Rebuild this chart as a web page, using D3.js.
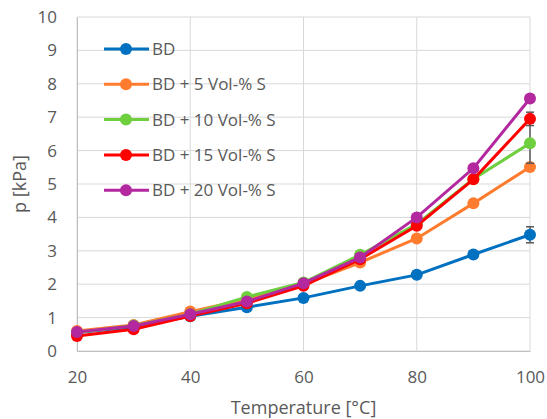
<!DOCTYPE html>
<html>
<head>
<meta charset="utf-8">
<script src="https://cdn.jsdelivr.net/npm/d3@7"></script>
<style>
  body { margin: 0; background: #fff; }
  text { font-family: "Open Sans", sans-serif; fill: #595959; }
</style>
</head>
<body>
<div class="chart"></div>
<script>
// temperatures on the x axis
const temps = [20, 30, 40, 50, 60, 70, 80, 90, 100];

// series names and values
const seriesNames = ["BD", "BD + 5 Vol-% S", "BD + 10 Vol-% S", "BD + 15 Vol-% S", "BD + 20 Vol-% S"];
const bd      = [0.55, 0.72, 1.04, 1.31, 1.59, 1.95, 2.28, 2.89, 3.48];
const bd5     = [0.60, 0.78, 1.18, 1.55, 2.00, 2.65, 3.37, 4.42, 5.51];
const bd10    = [0.55, 0.76, 1.10, 1.62, 2.05, 2.88, 3.80, 5.15, 6.22];
const bd15    = [0.45, 0.65, 1.05, 1.43, 1.95, 2.75, 3.75, 5.14, 6.95];
const bd20    = [0.57, 0.75, 1.10, 1.48, 2.03, 2.80, 4.00, 5.47, 7.56];
// error bar half-widths (only visible ones)
const bdErr   = [0, 0, 0, 0, 0, 0, 0, 0.08, 0.24];
const bd5Err  = [0, 0, 0, 0, 0, 0, 0, 0, 0];
const bd10Err = [0, 0, 0, 0, 0, 0, 0, 0, 0.6];
const bd15Err = [0, 0, 0, 0, 0, 0, 0, 0, 0.2];
const bd20Err = [0, 0, 0, 0, 0, 0, 0, 0, 0];

const xTicks = [20, 40, 60, 80, 100];
const yTicks = [0, 1, 2, 3, 4, 5, 6, 7, 8, 9, 10];

const colors = ["#0070C0", "#FF7C2E", "#6FCF3F", "#FF0000", "#B3289F"];

const allValues = [bd, bd5, bd10, bd15, bd20];
const allErrors = [bdErr, bd5Err, bd10Err, bd15Err, bd20Err];

let width = 547;
let height = 419;

let margin = { top: 17, right: 17, left: 77, bottom: 68 };

let svg = d3.select(".chart").append("svg")
    .attr("width", width)
    .attr("height", height);

const xScale = d3.scaleLinear()
    .domain([20, 100])
    .range([margin.left, width - margin.right]);

const yScale = d3.scaleLinear()
    .domain([0, 10])
    .range([height - margin.bottom, margin.top]);

// gridlines
svg.append("g")
    .selectAll("line")
    .data(yTicks)
    .enter()
    .append("line")
    .attr("x1", margin.left)
    .attr("x2", width - margin.right)
    .attr("y1", d => yScale(d))
    .attr("y2", d => yScale(d))
    .style("stroke", "#D9D9D9")
    .style("stroke-width", 1);

svg.append("g")
    .selectAll("line")
    .data(xTicks)
    .enter()
    .append("line")
    .attr("x1", d => xScale(d))
    .attr("x2", d => xScale(d))
    .attr("y1", margin.top)
    .attr("y2", height - margin.bottom)
    .style("stroke", "#D9D9D9")
    .style("stroke-width", 1);

// axes
const xAxis = svg.append("g")
    .attr("transform", `translate(0, ${height - margin.bottom})`)
    .call(d3.axisBottom(xScale).tickValues(xTicks).tickSize(0).tickPadding(20));
xAxis.select(".domain").style("stroke", "#BFBFBF");
xAxis.selectAll("text").style("font-size", "17px").style("fill", "#595959");

const yAxis = svg.append("g")
    .attr("transform", `translate(${margin.left}, 0)`)
    .call(d3.axisLeft(yScale).tickValues(yTicks).tickSize(0).tickPadding(20));
yAxis.select(".domain").style("stroke", "#BFBFBF");
yAxis.selectAll("text").style("font-size", "17px").style("fill", "#595959");

// axis titles
svg.append("text")
    .attr("x", (margin.left + width - margin.right) / 2)
    .attr("y", 414)
    .attr("text-anchor", "middle")
    .style("font-size", "18px")
    .text("Temperature [°C]");

svg.append("text")
    .attr("transform", `translate(26, ${(margin.top + height - margin.bottom) / 2}) rotate(-90)`)
    .attr("text-anchor", "middle")
    .style("font-size", "18px")
    .text("p [kPa]");

const line = d3.line()
    .x((d, i) => xScale(temps[i]))
    .y(d => yScale(d));

// series
allValues.forEach(function (values, s) {
    let g = svg.append("g");
    g.append("path")
        .datum(values)
        .attr("d", line)
        .style("fill", "none")
        .style("stroke", colors[s])
        .style("stroke-width", 3);

    // error bars
    let errs = allErrors[s];
    let eb = g.selectAll(".err")
        .data(values.map((v, i) => ({ v: v, e: errs[i], t: temps[i] })).filter(d => d.e > 0))
        .enter()
        .append("g");
    eb.append("line")
        .attr("x1", d => xScale(d.t))
        .attr("x2", d => xScale(d.t))
        .attr("y1", d => yScale(d.v - d.e))
        .attr("y2", d => yScale(d.v + d.e))
        .style("stroke", "#595959")
        .style("stroke-width", 1.5);
    eb.append("line")
        .attr("x1", d => xScale(d.t) - 4)
        .attr("x2", d => xScale(d.t) + 4)
        .attr("y1", d => yScale(d.v - d.e))
        .attr("y2", d => yScale(d.v - d.e))
        .style("stroke", "#595959")
        .style("stroke-width", 1.5);
    eb.append("line")
        .attr("x1", d => xScale(d.t) - 4)
        .attr("x2", d => xScale(d.t) + 4)
        .attr("y1", d => yScale(d.v + d.e))
        .attr("y2", d => yScale(d.v + d.e))
        .style("stroke", "#595959")
        .style("stroke-width", 1.5);

    g.selectAll("circle")
        .data(values)
        .enter()
        .append("circle")
        .attr("cx", (d, i) => xScale(temps[i]))
        .attr("cy", d => yScale(d))
        .attr("r", 6)
        .style("fill", colors[s]);
});

// legend
const legend = svg.append("g");
seriesNames.forEach(function (name, i) {
    let y = 49 + i * 35.3;
    legend.append("line")
        .attr("x1", 104)
        .attr("x2", 149)
        .attr("y1", y)
        .attr("y2", y)
        .style("stroke", colors[i])
        .style("stroke-width", 3);
    legend.append("circle")
        .attr("cx", 126)
        .attr("cy", y)
        .attr("r", 6)
        .style("fill", colors[i]);
    legend.append("text")
        .attr("x", 152)
        .attr("y", y)
        .attr("dy", "0.35em")
        .style("font-size", "17px")
        .text(name);
});
</script>
</body>
</html>
